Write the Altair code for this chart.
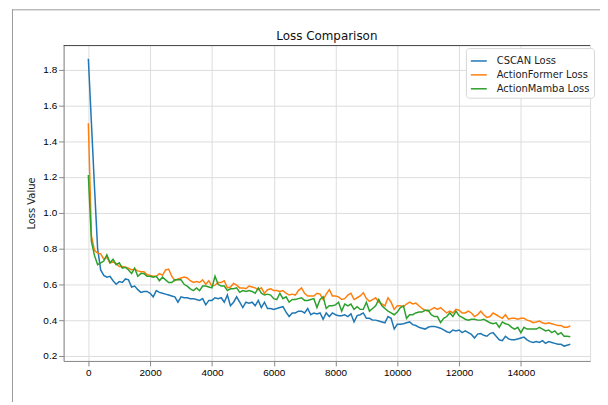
import altair as alt
import pandas as pd

step = 100
series_names = ["CSCAN Loss", "ActionFormer Loss", "ActionMamba Loss"]
series_colors = ["#1f77b4", "#ff7f0e", "#2ca02c"]
chart_title = "Loss Comparison"

cscan = [1.86, 1.50, 1.14, 0.80, 0.68, 0.65, 0.64, 0.645, 0.62, 0.60,
         0.615, 0.61, 0.63, 0.625, 0.585, 0.59, 0.57, 0.555, 0.56, 0.56,
         0.55, 0.53, 0.565, 0.555, 0.55, 0.545, 0.54, 0.535, 0.53, 0.50,
         0.53, 0.525, 0.525, 0.52, 0.52, 0.515, 0.51, 0.52, 0.485, 0.51,
         0.51, 0.525, 0.52, 0.525, 0.50, 0.54, 0.48, 0.50, 0.53, 0.50,
         0.47, 0.50, 0.495, 0.50, 0.48, 0.51, 0.47, 0.50, 0.465, 0.465,
         0.46, 0.465, 0.47, 0.475, 0.445, 0.42, 0.44, 0.44, 0.45, 0.45,
         0.44, 0.465, 0.43, 0.44, 0.435, 0.44, 0.405, 0.44, 0.42, 0.44,
         0.43, 0.425, 0.425, 0.43, 0.42, 0.435, 0.39, 0.425, 0.43, 0.44,
         0.41, 0.41, 0.40, 0.40, 0.395, 0.39, 0.385, 0.42, 0.41, 0.35,
         0.377, 0.377, 0.38, 0.385, 0.39, 0.375, 0.37, 0.36, 0.355, 0.35,
         0.36, 0.365, 0.365, 0.36, 0.355, 0.345, 0.335, 0.33, 0.345, 0.34,
         0.345, 0.33, 0.34, 0.33, 0.32, 0.30, 0.322, 0.325, 0.315, 0.31,
         0.325, 0.33, 0.31, 0.29, 0.285, 0.31, 0.295, 0.29, 0.29, 0.295,
         0.30, 0.305, 0.29, 0.28, 0.275, 0.28, 0.275, 0.285, 0.27, 0.28,
         0.275, 0.27, 0.265, 0.265, 0.255, 0.26, 0.265]

actionformer = [1.50, 0.87, 0.79, 0.775, 0.77, 0.74, 0.75, 0.72, 0.725, 0.715,
                0.70, 0.70, 0.695, 0.69, 0.68, 0.685, 0.675, 0.67, 0.67, 0.655,
                0.65, 0.645, 0.645, 0.66, 0.65, 0.68, 0.685, 0.645, 0.62, 0.63,
                0.635, 0.64, 0.635, 0.62, 0.61, 0.615, 0.61, 0.625, 0.60, 0.62,
                0.59, 0.595, 0.61, 0.61, 0.62, 0.58, 0.585, 0.605, 0.595, 0.58,
                0.58, 0.575, 0.59, 0.585, 0.58, 0.57, 0.58, 0.55, 0.57, 0.575,
                0.565, 0.565, 0.56, 0.565, 0.55, 0.54, 0.545, 0.54, 0.565, 0.58,
                0.55, 0.535, 0.535, 0.535, 0.55, 0.545, 0.515, 0.545, 0.57, 0.535,
                0.535, 0.53, 0.515, 0.52, 0.54, 0.55, 0.515, 0.525, 0.535, 0.553,
                0.52, 0.505, 0.515, 0.525, 0.50, 0.49, 0.48, 0.525, 0.50, 0.46,
                0.48, 0.48, 0.475, 0.49, 0.50, 0.49, 0.495, 0.48, 0.465, 0.455,
                0.45, 0.46, 0.47, 0.46, 0.47, 0.455, 0.44, 0.45, 0.44, 0.46,
                0.455, 0.44, 0.44, 0.45, 0.44, 0.42, 0.43, 0.45, 0.43, 0.415,
                0.42, 0.44, 0.43, 0.42, 0.41, 0.43, 0.405, 0.41, 0.41, 0.405,
                0.41, 0.41, 0.40, 0.395, 0.386, 0.39, 0.395, 0.385, 0.38, 0.385,
                0.38, 0.375, 0.37, 0.37, 0.36, 0.36, 0.367]

actionmamba = [1.21, 0.84, 0.76, 0.71, 0.72, 0.73, 0.765, 0.72, 0.74, 0.71,
               0.72, 0.69, 0.695, 0.68, 0.66, 0.69, 0.645, 0.66, 0.66, 0.645,
               0.645, 0.64, 0.645, 0.62, 0.64, 0.625, 0.61, 0.61, 0.625, 0.625,
               0.625, 0.60, 0.59, 0.575, 0.565, 0.58, 0.565, 0.59, 0.59, 0.585,
               0.58, 0.645, 0.60, 0.59, 0.59, 0.565, 0.575, 0.575, 0.58, 0.555,
               0.565, 0.56, 0.565, 0.56, 0.55, 0.58, 0.55, 0.54, 0.545, 0.54,
               0.52, 0.515, 0.55, 0.52, 0.53, 0.50, 0.515, 0.515, 0.52, 0.525,
               0.51, 0.51, 0.515, 0.52, 0.47, 0.515, 0.53, 0.465, 0.48, 0.48,
               0.485, 0.50, 0.45, 0.49, 0.48, 0.49, 0.46, 0.475, 0.46, 0.46,
               0.50, 0.45, 0.465, 0.48, 0.515, 0.48, 0.465, 0.45, 0.44, 0.43,
               0.445, 0.47, 0.48, 0.41, 0.43, 0.43, 0.44, 0.445, 0.445, 0.455,
               0.455, 0.43, 0.42, 0.42, 0.386, 0.41, 0.42, 0.44, 0.42, 0.45,
               0.425, 0.415, 0.405, 0.40, 0.405, 0.405, 0.40, 0.40, 0.405, 0.395,
               0.385, 0.38, 0.385, 0.36, 0.39, 0.38, 0.375, 0.36, 0.35, 0.36,
               0.33, 0.36, 0.35, 0.35, 0.35, 0.35, 0.36, 0.35, 0.34, 0.345,
               0.33, 0.34, 0.32, 0.33, 0.31, 0.31, 0.307]

x_ticks = [0, 2000, 4000, 6000, 8000, 10000, 12000, 14000]
y_ticks = [0.2, 0.4, 0.6, 0.8, 1.0, 1.2, 1.4, 1.6, 1.8]

rows = []
for name, vals in zip(series_names, [cscan, actionformer, actionmamba]):
    for i, v in enumerate(vals):
        rows.append({"Iteration": i * step, "Loss": v, "Series": name})
df = pd.DataFrame(rows)
one = pd.DataFrame({"label": [chart_title]})

W, H = 530, 318
FONT = "DejaVu Sans"
INK = "#222222"

lines = alt.Chart(df).mark_line(strokeWidth=1.5).encode(
    x=alt.X("Iteration:Q",
            scale=alt.Scale(domain=[-800, 16240], nice=False, zero=False),
            axis=alt.Axis(values=x_ticks, format="d", title=None, grid=True)),
    y=alt.Y("Loss:Q",
            scale=alt.Scale(domain=[0.172, 1.936], nice=False, zero=False),
            axis=alt.Axis(values=y_ticks, format=".1f", title="Loss Value", grid=True,
                          titleFontWeight="normal", titleFont=FONT, titleFontSize=10,
                          titleColor=INK, titlePadding=6)),
    color=alt.Color("Series:N",
                    scale=alt.Scale(domain=series_names, range=series_colors),
                    legend=alt.Legend(title=None, orient="none", legendX=405, legendY=3,
                                      symbolType="stroke", symbolSize=256,
                                      symbolStrokeWidth=1.5, labelFontSize=10,
                                      labelFont=FONT, labelColor=INK,
                                      fillColor="white", strokeColor="#d6d6d6",
                                      cornerRadius=3, padding=4, rowPadding=-4,
                                      labelOffset=9)),
    detail="Series:N",
    order=alt.Order("Iteration:Q"),
)

title_text = alt.Chart(one).mark_text(
    fontSize=12, font=FONT, color="#111", align="center", baseline="alphabetic"
).encode(x=alt.value(W / 2), y=alt.value(-5), text="label:N")

top_spine = alt.Chart(one).mark_rule(color="#444", strokeWidth=1).encode(
    x=alt.value(0), x2=alt.value(W), y=alt.value(0.5))
frame_top = alt.Chart(one).mark_rule(color="#9a9a9a", strokeWidth=1).encode(
    x=alt.value(-52), x2=alt.value(W + 30), y=alt.value(-35.5))
frame_left = alt.Chart(one).mark_rule(color="#9a9a9a", strokeWidth=1).encode(
    x=alt.value(-51.5), y=alt.value(-36), y2=alt.value(H + 60))

chart = alt.layer(frame_top, frame_left, lines, top_spine, title_text).properties(
    width=W, height=H,
    autosize=alt.AutoSizeParams(type="none"),
    padding={"left": 56, "top": 36, "right": 10, "bottom": 40},
).configure_view(stroke=None).configure_axis(
    labelFont=FONT, labelFontSize=10, labelColor=INK,
    titleFont=FONT, titleFontSize=10, titleColor=INK, titleFontWeight="normal",
    domainColor="#444", domainWidth=1, tickColor="#444", tickSize=4, tickWidth=1,
    gridColor="#c8c8c8", gridWidth=0.9, labelPadding=3,
).configure(background="white")

chart.save("out.html", embed_options={"renderer": "svg", "actions": False})
